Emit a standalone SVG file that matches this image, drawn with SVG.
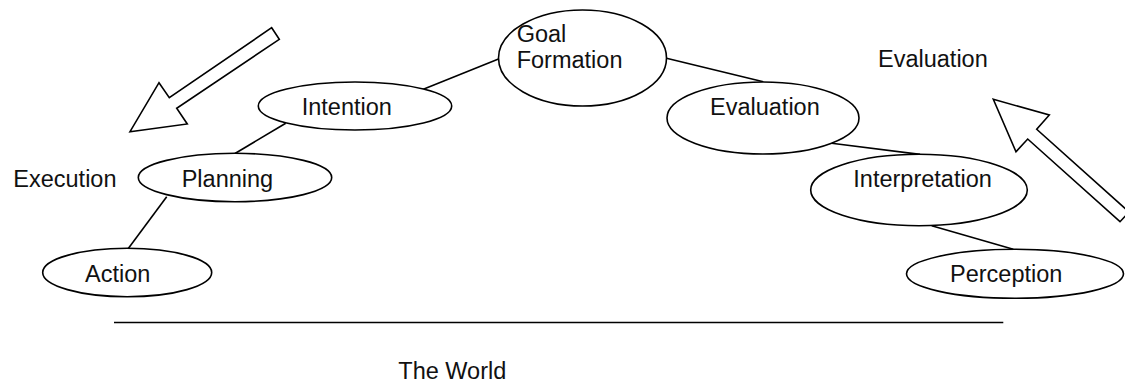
<svg xmlns="http://www.w3.org/2000/svg" width="1125" height="385" viewBox="0 0 1125 385">
  <style>
    .node ellipse { fill: #ffffff; stroke: #000000; stroke-width: 1.6; }
    .label { font-family: "Liberation Sans", Arial, sans-serif; font-size: 23.5px; fill: #111111; }
    .link { stroke: #000000; stroke-width: 1.6; fill: none; }
    .bigarrow { fill: #ffffff; stroke: #000000; stroke-width: 1.6; stroke-linejoin: miter; }
  </style>
  <rect width="1125" height="385" fill="#ffffff"/>

  <!-- connectors between stages -->
  <g id="connectors">
    <line class="link" x1="423.3" y1="89.3" x2="498.5" y2="59"/>
    <line class="link" x1="285.7" y1="123.3" x2="235" y2="153.5"/>
    <line class="link" x1="166.7" y1="196.7" x2="128.3" y2="248.5"/>
    <line class="link" x1="666.5" y1="58.3" x2="763.3" y2="81.8"/>
    <line class="link" x1="831.7" y1="143.3" x2="920" y2="154.4"/>
    <line class="link" x1="931.7" y1="225.7" x2="1013.3" y2="249.3"/>
  </g>

  <!-- the world baseline -->
  <line class="link" x1="114" y1="322.5" x2="1003.3" y2="322.5"/>

  <!-- execution / evaluation direction arrows -->
  <polygon id="arrow-execution" class="bigarrow" points="271.7,27.7 279.3,39.3 176.7,108.3 187.3,124 130,131.7 159,82.7 169.3,97.7"/>
  <polygon id="arrow-evaluation" class="bigarrow" points="993.3,99.3 1049.3,115 1036.7,129.3 1129,212 1120,221.7 1027.7,139 1016,151.7"/>

  <g id="goal-formation" class="node">
    <ellipse cx="582.5" cy="58" rx="84" ry="48"/>
    <text class="label" x="516.7" y="41.7">Goal</text>
    <text class="label" x="516.7" y="68.3">Formation</text>
  </g>

  <g id="intention" class="node">
    <ellipse cx="355" cy="106" rx="96.7" ry="24"/>
    <text class="label" x="301.7" y="115">Intention</text>
  </g>

  <g id="planning" class="node">
    <ellipse cx="235" cy="177.5" rx="96.7" ry="24.2"/>
    <text class="label" x="181.7" y="186.7">Planning</text>
  </g>

  <g id="action" class="node">
    <ellipse cx="127.2" cy="272.5" rx="84.5" ry="24.2"/>
    <text class="label" x="85" y="281.7">Action</text>
  </g>

  <g id="evaluation" class="node">
    <ellipse cx="763" cy="118" rx="96" ry="36"/>
    <text class="label" x="710" y="115">Evaluation</text>
  </g>

  <g id="interpretation" class="node">
    <ellipse cx="919" cy="190" rx="108.3" ry="35.7"/>
    <text class="label" x="853.3" y="186.7">Interpretation</text>
  </g>

  <g id="perception" class="node">
    <ellipse cx="1015" cy="273.8" rx="108.5" ry="24.5"/>
    <text class="label" x="950" y="281.7">Perception</text>
  </g>

  <!-- free labels -->
  <text class="label" x="13.3" y="186.7">Execution</text>
  <text class="label" x="878" y="66.7">Evaluation</text>
  <text class="label" x="398.3" y="378.5">The World</text>
</svg>
